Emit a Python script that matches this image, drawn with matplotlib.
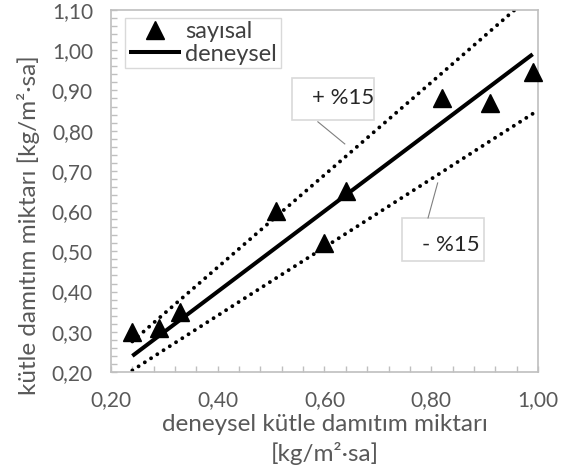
import matplotlib
matplotlib.use("Agg")
import matplotlib.pyplot as plt
from matplotlib.patches import Rectangle
from matplotlib.ticker import MultipleLocator

plt.rcParams['font.family'] = ['Lato', 'DejaVu Sans']

# deneysel (x) ve sayısal (y) kütle damıtım miktarları
deneysel = [0.24, 0.29, 0.33, 0.51, 0.60, 0.64, 0.82, 0.91, 0.99]
sayisal = [0.30, 0.31, 0.35, 0.60, 0.52, 0.65, 0.88, 0.87, 0.945]

# +%15 / -%15 sapma bantları
ust_bant = [0.276, 0.334, 0.380, 0.587, 0.690, 0.736, 0.943, 1.047, 1.139]
alt_bant = [0.204, 0.247, 0.281, 0.434, 0.510, 0.544, 0.697, 0.774, 0.842]

gray = "#595959"
spine_c = "#bfbfbf"


def comma_fmt(v, pos):
    return f"{v:.2f}".replace(".", ",")


fig = plt.figure(figsize=(5.68, 4.73), dpi=100)
ax = fig.add_axes([0.1954, 0.2135, 0.7518, 0.7654])

dotted = dict(color="black", lw=2.8, linestyle=(0, (0.01, 1.9)),
              dash_capstyle="round")
ax.plot(deneysel, ust_bant, **dotted)
ax.plot(deneysel, alt_bant, **dotted)
ax.plot(deneysel, deneysel, color="black", lw=2.9, label="deneysel",
        solid_capstyle="butt")
ax.plot(deneysel, sayisal, linestyle="none", marker="^", markersize=12.5,
        color="black", label="sayısal", clip_on=False, zorder=5)

ax.set_xlim(0.2, 1.0)
ax.set_ylim(0.2, 1.1)
ax.xaxis.set_major_locator(MultipleLocator(0.2))
ax.xaxis.set_minor_locator(MultipleLocator(0.04))
ax.yaxis.set_major_locator(MultipleLocator(0.1))
ax.yaxis.set_minor_locator(MultipleLocator(0.02))
ax.xaxis.set_major_formatter(plt.FuncFormatter(comma_fmt))
ax.yaxis.set_major_formatter(plt.FuncFormatter(comma_fmt))

for s in ax.spines.values():
    s.set_color(spine_c)
    s.set_linewidth(1.2)
ax.tick_params(which="both", direction="in", color=spine_c, length=4,
               width=1, labelsize=15, labelcolor=gray)
ax.tick_params(axis="x", which="both", pad=13)
ax.tick_params(axis="y", which="both", pad=13)
ax.tick_params(which="both", top=False, right=False)

# eksen başlıkları
ax.text(0.5, -0.145, "deneysel kütle damıtım miktarı", transform=ax.transAxes,
        ha="center", va="center", fontsize=17.5, color=gray)
ax.text(0.5, -0.225, "[kg/m²·sa]", transform=ax.transAxes,
        ha="center", va="center", fontsize=17.5, color=gray)
fig.text(29 / 568, 1 - 225 / 473, "kütle damıtım miktarı [kg/m²·sa]",
         rotation=90, ha="center", va="center", fontsize=17.5, color=gray)

# lejant
handles, labels = ax.get_legend_handles_labels()
leg = ax.legend(handles[::-1], labels[::-1], loc="upper left",
                bbox_to_anchor=(0.033, 0.978), borderaxespad=0,
                fancybox=False, edgecolor="#d9d9d9", fontsize=17,
                handlelength=2.2, handletextpad=0.2, borderpad=0.15,
                labelspacing=0.05, framealpha=1)
for t in leg.get_texts():
    t.set_color("#404040")

# bant etiketleri
for (x0, y0, x1, y1), (tx, ty), txt, (lx0, ly0, lx1, ly1) in [
    ((0.539, 0.827, 0.6925, 0.931), (0.634, 0.882), "+ %15",
     (0.5876, 0.822, 0.638, 0.767)),
    ((0.745, 0.476, 0.8985, 0.583), (0.837, 0.516), "- %15",
     (0.812, 0.670, 0.794, 0.583)),
]:
    ax.add_patch(Rectangle((x0, y0), x1 - x0, y1 - y0, facecolor="white",
                           edgecolor="#d9d9d9", lw=1.2, zorder=6))
    ax.text(tx, ty, txt, ha="center", va="center", fontsize=16,
            color="#262626", zorder=7)
    ax.plot([lx0, lx1], [ly0, ly1], color="#7f7f7f", lw=0.8, zorder=6)

fig.savefig("out.png", dpi=100)
